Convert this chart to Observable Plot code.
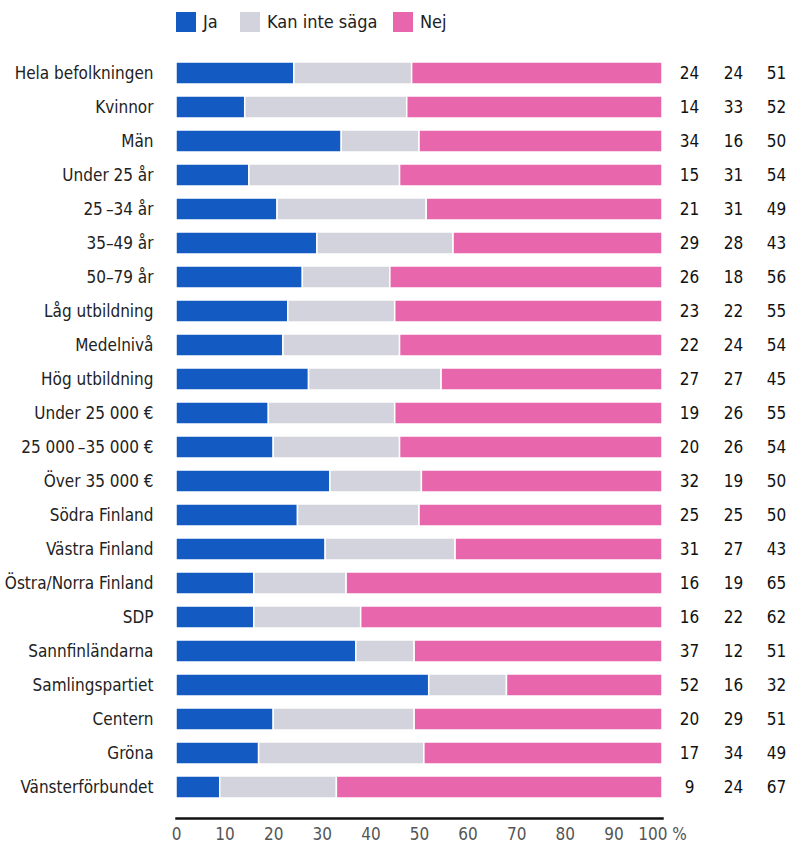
<!DOCTYPE html>
<html><head><meta charset="utf-8">
<script src="https://cdn.jsdelivr.net/npm/d3@7"></script>
<script src="https://cdn.jsdelivr.net/npm/@observablehq/plot@0.6"></script>
<style>
body{margin:0;background:#fff;font-family:"Liberation Sans Narrow","DejaVu Sans Condensed","Roboto Condensed",sans-serif;font-stretch:condensed;}
#legend{height:44px;position:relative;font-size:18px;color:#222;}
.item{position:absolute;top:12px;display:flex;align-items:center;gap:7px;line-height:20px;}
.sw{width:20px;height:20px;display:inline-block;}
</style></head>
<body>
<div id="legend"></div>
<div id="chart"></div>
<script>
const categories = ["Hela befolkningen","Kvinnor","Män","Under 25 år","25\u2009–34 år","35–49 år","50–79 år","Låg utbildning","Medelnivå","Hög utbildning","Under 25 000 €","25 000\u2009–35 000 €","Över 35 000 €","Södra Finland","Västra Finland","Östra/Norra Finland","SDP","Sannfinländarna","Samlingspartiet","Centern","Gröna","Vänsterförbundet"];
const ja  = [24,14,34,15,21,29,26,23,22,27,19,20,32,25,31,16,16,37,52,20,17,9];
const kan = [24,33,16,31,31,28,18,22,24,27,26,26,19,25,27,19,22,12,16,29,34,24];
const nej = [51,52,50,54,49,43,56,55,54,45,55,54,50,50,43,65,62,51,32,51,49,67];
const series = ["Ja","Kan inte säga","Nej"];
const colors = ["#135bc2","#d3d3dd","#e866ab"];
const tickValues = [0,10,20,30,40,50,60,70,80,90,100];

const legend = document.getElementById("legend");
const legendX = [176,240,393];
series.forEach((s,i)=>{
  const d=document.createElement("div");d.className="item";d.style.left=legendX[i]+"px";
  d.innerHTML=`<span class="sw" style="background:${colors[i]}"></span><span>${s}</span>`;
  legend.appendChild(d);
});

const vals=[ja,kan,nej];
const data=[];
categories.forEach((c,i)=>series.forEach((s,j)=>data.push({label:c,cat:s,value:vals[j][i]})));
const rows=categories.map((c,i)=>({label:c,ja:ja[i],kan:kan[i],nej:nej[i]}));

const chart = Plot.plot({
  width:790, height:804,
  marginLeft:176, marginRight:128, marginTop:4, marginBottom:30,
  style:{fontFamily:'"Liberation Sans Narrow","DejaVu Sans Condensed",sans-serif',fontSize:"17px",color:"#222",background:"#fff"},
  x:{domain:[0,1],ticks:tickValues.map(t=>t/100),tickFormat:d=>Math.round(d*100)===100?"100 %":String(Math.round(d*100)),tickSize:0,tickPadding:9,label:null},
  y:{domain:categories,padding:0.36,insetBottom:6,tickSize:0,tickPadding:23,label:null},
  color:{domain:series,range:colors},
  marks:[
    Plot.barX(data,Plot.stackX({x:"value",y:"label",fill:"cat",order:series,offset:"normalize",stroke:"white",strokeWidth:1.5})),
    Plot.frame({anchor:"bottom",stroke:"#111",strokeWidth:2.5}),
    Plot.text(rows,{x:()=>1,y:"label",text:"ja",dx:27,fontSize:17,fill:"#111"}),
    Plot.text(rows,{x:()=>1,y:"label",text:"kan",dx:71,fontSize:17,fill:"#111"}),
    Plot.text(rows,{x:()=>1,y:"label",text:"nej",dx:114,fontSize:17,fill:"#111"}),
    Plot.axisX({ticks:tickValues.map(t=>t/100),tickFormat:d=>Math.round(d*100)===100?"100 %":String(Math.round(d*100)),tickSize:0,tickPadding:9,fill:"#555",fontSize:17}),
    Plot.axisY({tickSize:0,tickPadding:23,fill:"#222",fontSize:17})
  ]
});
document.getElementById("chart").appendChild(chart);
</script>
</body></html>
